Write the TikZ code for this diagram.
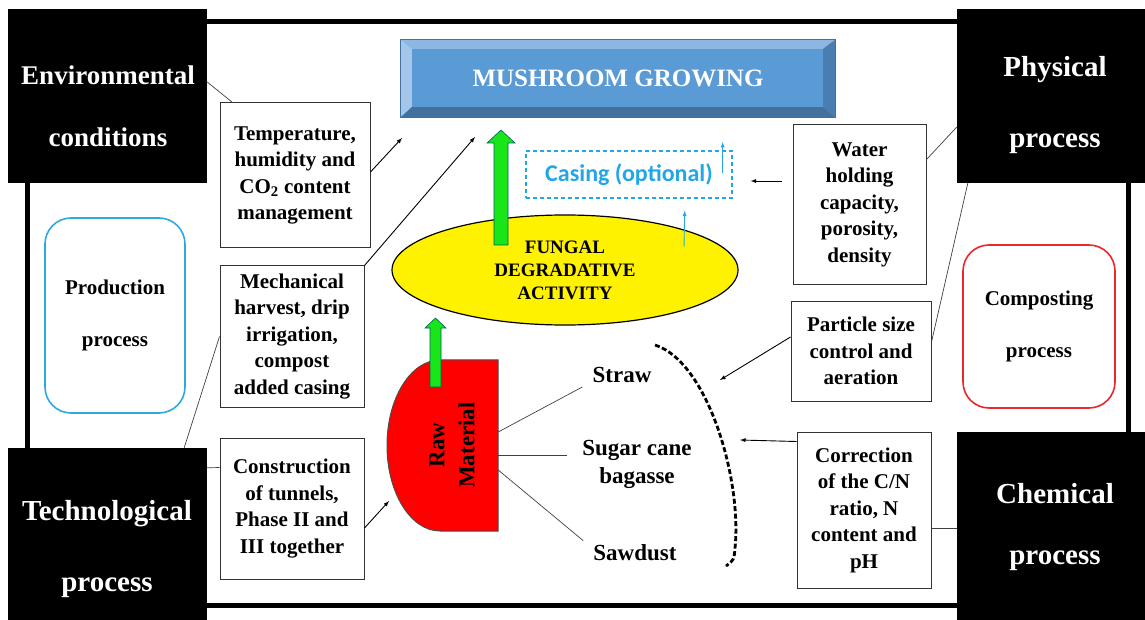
\documentclass[tikz,border=0pt]{standalone}
\usepackage{fontspec}
\setmainfont{Liberation Serif}
\newfontfamily\casingfont{Carlito}
\usetikzlibrary{arrows,shapes.geometric}
\definecolor{barface}{HTML}{5B9BD5}
\definecolor{bartop}{HTML}{8DB7E3}
\definecolor{barleft}{HTML}{A3C6EA}
\definecolor{barbottom}{HTML}{41719C}
\definecolor{barright}{HTML}{4A7DB0}
\definecolor{casingblue}{HTML}{22A6E6}
\definecolor{prodblue}{HTML}{2FA8E0}
\definecolor{compred}{HTML}{E8282A}
\definecolor{arrowgreen}{HTML}{19E619}

\tikzset{
  blackbox/.style={fill=black,inner sep=0pt},
  headtxt/.style 2 args={text=white,align=center,font=\rmfamily\bfseries\fontsize{#1}{#2}\selectfont},
  infobox/.style={draw=black!80,line width=1pt,fill=white,align=center,inner sep=0pt,
    font=\rmfamily\bfseries\fontsize{21}{26.5}\selectfont},
  procbox/.style={rounded corners=26pt,line width=1.6pt,align=center,inner sep=0pt,
    font=\rmfamily\bfseries\fontsize{21}{52}\selectfont},
  sourcetxt/.style={align=center,inner sep=4pt,font=\rmfamily\bfseries\fontsize{23}{28}\selectfont},
  link/.style={draw=black!75,line width=0.7pt},
  thinarrow/.style={-latex,draw=black,line width=0.9pt},
  bluearrow/.style={-latex,draw=casingblue,line width=0.9pt},
  greenarrow/.style={fill=arrowgreen,draw=black!40!green!60!blue,line width=0.6pt}
}

\begin{document}
\begin{tikzpicture}[x=1pt,y=-1pt]
  \useasboundingbox (0,0) rectangle (1145,620);
  % frame
  \draw[line width=5pt] (27,22) rectangle (1128,605);

  % corner boxes
  \node[blackbox,minimum width=199pt,minimum height=174pt] (env) at (107.5,96) {};
  \node[blackbox,minimum width=188pt,minimum height=174pt] (phys) at (1051,96) {};
  \node[blackbox,minimum width=199pt,minimum height=172pt] (tech) at (107.5,534) {};
  \node[blackbox,minimum width=188pt,minimum height=188pt] (chem) at (1051,526) {};
  \node[headtxt={27}{62}] at (108,106) {Environmental\\conditions};
  \node[headtxt={29}{71}] at (1055,105) {Physical\\process};
  \node[headtxt={29}{71}] at (107,549) {Technological\\process};
  \node[headtxt={29}{61}] at (1055,527) {Chemical\\process};

  % process boxes
  \node[procbox,draw=prodblue,minimum width=140pt,minimum height=195pt] (prod) at (115,315.5) {Production\\process};
  \node[procbox,draw=compred,minimum width=152pt,minimum height=163pt] (comp) at (1039,326.5) {Composting\\process};

  % mushroom growing bar
  \node[fill=barface,minimum width=434pt,minimum height=77pt,inner sep=0pt,text=white,
    font=\rmfamily\bfseries\fontsize{25}{25}\selectfont] (grow) at (618,78.5) {MUSHROOM GROWING};
  \fill[bartop] (grow.north west) -- (grow.north east) -- ([xshift=-12pt,yshift=-9pt]grow.north east)
    -- ([xshift=11pt,yshift=-9pt]grow.north west) -- cycle;
  \fill[barleft] (grow.north west) -- ([xshift=11pt,yshift=-9pt]grow.north west)
    -- ([xshift=11pt,yshift=10pt]grow.south west) -- (grow.south west) -- cycle;
  \fill[barbottom] (grow.south west) -- ([xshift=11pt,yshift=10pt]grow.south west)
    -- ([xshift=-12pt,yshift=10pt]grow.south east) -- (grow.south east) -- cycle;
  \fill[barright] (grow.north east) -- ([xshift=-12pt,yshift=-9pt]grow.north east)
    -- ([xshift=-12pt,yshift=10pt]grow.south east) -- (grow.south east) -- cycle;
  \draw[barbottom,line width=0.8pt] (grow.north west) rectangle (grow.south east);

  % info boxes
  \node[infobox,minimum width=150pt,minimum height=145pt] (temp) at (295,175.5) {Temperature,\\humidity and\\CO$_\mathbf{2}$ content\\management};
  \node[infobox,minimum width=144pt,minimum height=141pt] (mech) at (292,336.5) {Mechanical\\harvest, drip\\irrigation,\\compost\\added casing};
  \node[infobox,minimum width=144pt,minimum height=141pt] (cons) at (292,508.5) {Construction\\of tunnels,\\Phase II and\\III together};
  \node[infobox,minimum width=133pt,minimum height=159pt] (water) at (859.5,204.5) {Water\\holding\\capacity,\\porosity,\\density};
  \node[infobox,minimum width=140pt,minimum height=100pt] (part) at (861,351) {Particle size\\control and\\aeration};
  \node[infobox,minimum width=134pt,minimum height=156pt] (corr) at (864,510) {Correction\\of the C/N\\ratio, N\\content and\\pH};

  % fungal activity
  \node[ellipse,draw,fill=yellow,line width=1.2pt,minimum width=346pt,minimum height=110pt,inner sep=0pt,
    align=center,font=\rmfamily\bfseries\fontsize{19}{23}\selectfont] (fung) at (565,270) {FUNGAL\\DEGRADATIVE\\ACTIVITY};
  \filldraw[greenarrow] (494,245) -- (494,143) -- (487,143) -- (501,130) -- (515,143) -- (508,143) -- (508,245) -- cycle;

  % casing
  \node[draw=casingblue,line width=1.4pt,dash pattern=on 4pt off 3pt,minimum width=206pt,minimum height=47pt,
    inner sep=0pt,text=casingblue,font=\casingfont\bfseries\fontsize{24}{24}\selectfont] (casing) at (629,174.5) {Casing (optional)};
  \coordinate (c1) at ([xshift=-10pt,yshift=32.5pt]casing.east);
  \draw[bluearrow] ([xshift=-10pt,yshift=1.5pt]casing.east) -- (c1);
  \draw[bluearrow] ([xshift=119pt,yshift=23pt]fung.center) -- ([xshift=-48pt,yshift=-12pt]casing.south east);

  % raw material
  \node[minimum width=111pt,minimum height=171pt,inner sep=0pt] (raw) at (442.5,445.5) {};
  \filldraw[fill=red,draw=black!70,line width=1pt] (raw.north east) -- (440,360)
    arc[start angle=270,end angle=90,x radius=53,y radius=85.5] -- (raw.south east) -- cycle;
  \node[rotate=90,align=center,font=\rmfamily\bfseries\fontsize{23}{30}\selectfont] at (452,445) {Raw\\Material};
  \filldraw[greenarrow] (430,387) -- (430,328) -- (425,328) -- (435.5,318) -- (446,328) -- (441,328) -- (441,387) -- cycle;

  % substrates
  \node[sourcetxt] (straw) at (622,375) {Straw};
  \node[sourcetxt] (sugar) at (637,464) {Sugar cane\\bagasse};
  \node[sourcetxt] (saw) at (635,553) {Sawdust};
  \draw[link] ([yshift=13.5pt]raw.east) -- ([xshift=-6pt]straw.south west);
  \draw[link] ([yshift=-9.5pt]raw.east) -- ([xshift=-11pt,yshift=9pt]sugar.west);
  \draw[link] ([yshift=-24.5pt]raw.east) -- ([xshift=-6pt]saw.north west);
  \draw[line width=2.8pt,dash pattern=on 5pt off 2.5pt] (655,345) .. controls (708,362) and (742,480) .. (735,548)
    .. controls (734,560) .. (726,566);

  % connectors
  \coordinate (t1) at (402,138);
  \coordinate (t2) at (475,137);
  \coordinate (t3) at (389,501);
  \coordinate (t4) at (720,380);
  \coordinate (t5) at (740,440);
  \draw[link] ([yshift=14pt]env.east) -- ([xshift=13pt]temp.north west);
  \draw[thinarrow] ([yshift=3.5pt]temp.east) -- (t1);
  \draw[thinarrow] (mech.north east) -- (t2);
  \draw[link] ([xshift=-23pt]tech.north east) -- (mech.west);
  \draw[link] ([yshift=-20pt]tech.north east) -- ([yshift=-30pt]cons.north west);
  \draw[thinarrow] ([yshift=-19.5pt]cons.east) -- (t3);
  \draw[link] ([yshift=-31pt]phys.west) -- ([yshift=-35pt]water.north east);
  \draw[link] ([xshift=11pt]phys.south west) -- ([yshift=9pt]part.east);
  \draw[link] ([yshift=-2pt]chem.west) -- ([yshift=-18pt]corr.east);
  \draw[thinarrow] ([xshift=-11pt,yshift=23.5pt]water.west) -- ([xshift=18pt,yshift=-6.5pt]casing.east);
  \draw[thinarrow] ([yshift=14pt]part.west) -- (t4);
  \draw[thinarrow] ([yshift=-10pt]corr.north west) -- (t5);
\end{tikzpicture}
\end{document}
